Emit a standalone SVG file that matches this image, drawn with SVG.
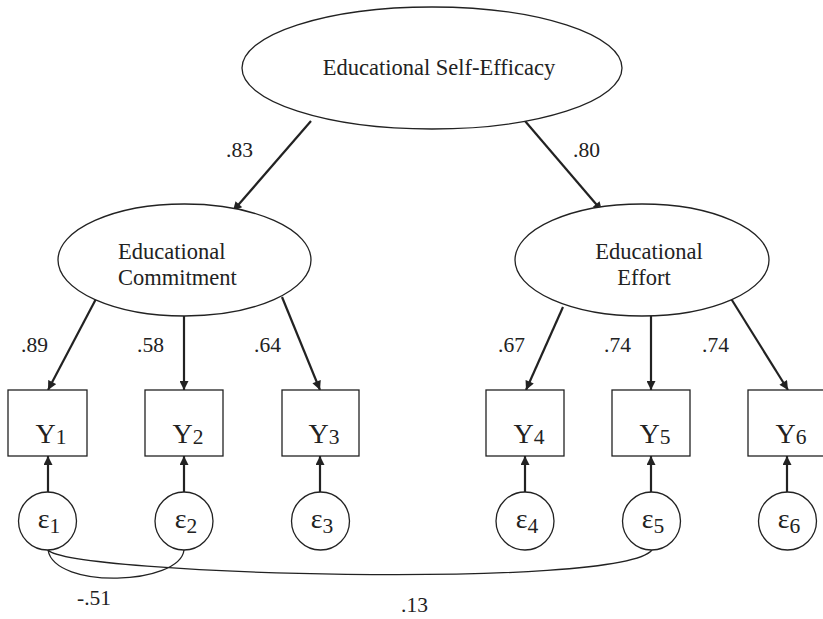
<svg xmlns="http://www.w3.org/2000/svg" width="823" height="619" viewBox="0 0 823 619">
<style>
  .shape { fill: #fff; stroke: #222; stroke-width: 1.3; }
  .arrow { stroke: #222; stroke-width: 2.2; fill: none; marker-end: url(#ah); }
  .cov { stroke: #222; stroke-width: 1.3; fill: none; }
  text { font-family: "Liberation Serif", "Times New Roman", serif; fill: #222; }
  .lbl { font-size: 21.5px; }
  .nm { font-size: 22.5px; }
  .y { font-size: 28px; text-anchor: middle; }
  .e { font-size: 28px; text-anchor: middle; }
  .sub { font-size: 21.5px; }
</style>
<defs>
  <marker id="ah" viewBox="0 0 10 10" refX="10" refY="5" markerWidth="10" markerHeight="9" markerUnits="userSpaceOnUse" orient="auto">
    <path d="M0,0 L10,5 L0,10 Z" fill="#222"/>
  </marker>
</defs>
<rect width="823" height="619" fill="#fff"/>

<g id="connectors">
  <line class="arrow" x1="311" y1="121" x2="233" y2="211"/>
  <line class="arrow" x1="525" y1="121" x2="602" y2="211"/>
  <line class="arrow" x1="97" y1="297" x2="48" y2="390"/>
  <line class="arrow" x1="184" y1="316" x2="184" y2="390"/>
  <line class="arrow" x1="282" y1="297" x2="320" y2="390"/>
  <line class="arrow" x1="563" y1="307" x2="526" y2="390"/>
  <line class="arrow" x1="651" y1="316" x2="651" y2="390"/>
  <line class="arrow" x1="730" y1="297" x2="788" y2="390"/>
  <line class="arrow" x1="48" y1="493" x2="48" y2="456"/>
  <line class="arrow" x1="184" y1="493" x2="184" y2="456"/>
  <line class="arrow" x1="320" y1="493" x2="320" y2="456"/>
  <line class="arrow" x1="525" y1="493" x2="525" y2="456"/>
  <line class="arrow" x1="651" y1="493" x2="651" y2="456"/>
  <line class="arrow" x1="787" y1="493" x2="787" y2="456"/>
  <path class="cov" d="M48,550 C55,590 180,585 184,550"/>
  <path class="cov" d="M48,550 C70,575 620,590 652,550"/>
</g>

<g id="labels">
  <text class="lbl" x="226" y="157">.83</text>
  <text class="lbl" x="573" y="157">.80</text>
  <text class="lbl" x="21" y="352">.89</text>
  <text class="lbl" x="137" y="352">.58</text>
  <text class="lbl" x="254" y="352">.64</text>
  <text class="lbl" x="498" y="352">.67</text>
  <text class="lbl" x="604" y="352">.74</text>
  <text class="lbl" x="702" y="352">.74</text>
  <text class="lbl" x="77" y="605">-.51</text>
  <text class="lbl" x="401" y="612">.13</text>
</g>

<g id="self-efficacy">
  <ellipse class="shape" cx="432" cy="68" rx="190" ry="61"/>
  <text class="nm" x="439" y="75" text-anchor="middle">Educational Self-Efficacy</text>
</g>
<g id="commitment">
  <ellipse class="shape" cx="184.5" cy="260" rx="126.5" ry="56"/>
  <text class="nm" x="118" y="259">Educational</text>
  <text class="nm" x="118" y="285">Commitment</text>
</g>
<g id="effort">
  <ellipse class="shape" cx="642" cy="260" rx="127" ry="56"/>
  <text class="nm" x="649" y="259" text-anchor="middle">Educational</text>
  <text class="nm" x="644" y="285" text-anchor="middle">Effort</text>
</g>

<g id="Y1"><rect class="shape" x="8" y="390" width="79" height="66"/><text class="y" x="51" y="443">Y<tspan class="sub" dy="1">1</tspan></text></g>
<g id="Y2"><rect class="shape" x="145" y="390" width="78" height="66"/><text class="y" x="188" y="443">Y<tspan class="sub" dy="1">2</tspan></text></g>
<g id="Y3"><rect class="shape" x="282" y="390" width="77" height="66"/><text class="y" x="324" y="443">Y<tspan class="sub" dy="1">3</tspan></text></g>
<g id="Y4"><rect class="shape" x="486" y="390" width="78" height="66"/><text class="y" x="529" y="443">Y<tspan class="sub" dy="1">4</tspan></text></g>
<g id="Y5"><rect class="shape" x="612" y="390" width="78" height="66"/><text class="y" x="655" y="443">Y<tspan class="sub" dy="1">5</tspan></text></g>
<g id="Y6"><rect class="shape" x="748" y="390" width="78" height="66"/><text class="y" x="791" y="443">Y<tspan class="sub" dy="1">6</tspan></text></g>

<g id="e1"><circle class="shape" cx="47.5" cy="521" r="29"/><text class="e" x="49" y="528">ε<tspan class="sub" dy="5">1</tspan></text></g>
<g id="e2"><circle class="shape" cx="184" cy="521" r="29"/><text class="e" x="186" y="528">ε<tspan class="sub" dy="5">2</tspan></text></g>
<g id="e3"><circle class="shape" cx="320.5" cy="521" r="29"/><text class="e" x="322" y="528">ε<tspan class="sub" dy="5">3</tspan></text></g>
<g id="e4"><circle class="shape" cx="525" cy="521" r="29"/><text class="e" x="527" y="528">ε<tspan class="sub" dy="5">4</tspan></text></g>
<g id="e5"><circle class="shape" cx="651.5" cy="521" r="29"/><text class="e" x="653" y="528">ε<tspan class="sub" dy="5">5</tspan></text></g>
<g id="e6"><circle class="shape" cx="787.5" cy="521" r="29"/><text class="e" x="789" y="528">ε<tspan class="sub" dy="5">6</tspan></text></g>
</svg>
